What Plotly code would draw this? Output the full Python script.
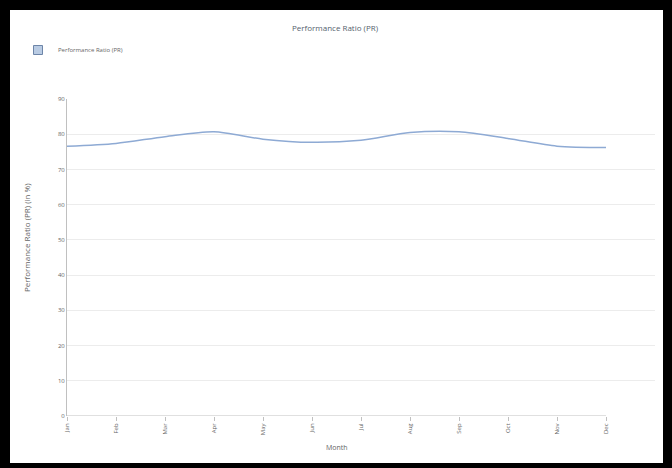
import plotly.graph_objects as go

months = ["Jan", "Feb", "Mar", "Apr", "May", "Jun", "Jul", "Aug", "Sep", "Oct", "Nov", "Dec"]
pr_values = [76.6, 77.4, 79.3, 80.7, 78.6, 77.7, 78.3, 80.5, 80.7, 78.8, 76.6, 76.2]
y_ticks = [0, 10, 20, 30, 40, 50, 60, 70, 80, 90]
series_name = "Performance Ratio (PR)"
chart_title = "Performance Ratio (PR)"
y_title = "Performance Ratio (PR) (in %)"
x_title = "Month"

W, H = 672, 468
L, R, T, B = 67, 17, 99, 52
pw = W - L - R
ph = H - T - B

def px_x(x):
    return (x - L) / pw

def px_y(y):
    return (H - B - y) / ph

line_color = "#8eaad4"
text_color = "#666666"
font_family = "Open Sans, Noto Sans, sans-serif"

fig = go.Figure()
fig.add_trace(go.Scatter(
    x=months, y=pr_values, mode="lines", name=series_name,
    line=dict(color=line_color, width=1.5, shape="spline", smoothing=0.8),
    showlegend=False,
))
fig.add_trace(go.Scatter(
    x=[None], y=[None], mode="markers", name=series_name,
    marker=dict(symbol="square", size=9, color="#b9cbe3",
                line=dict(color="#6d85a8", width=1)),
    showlegend=True,
))

shapes = []
# x axis line spanning the categories
shapes.append(dict(type="line", xref="x", yref="y", x0=0, x1=11, y0=0, y1=0,
                   line=dict(color="#c0c0c0", width=1), layer="above"))
# black frame
frame = "#000000"
shapes += [
    dict(type="rect", xref="paper", yref="paper", x0=px_x(0), x1=px_x(10), y0=px_y(H), y1=px_y(0),
         fillcolor=frame, line=dict(width=0), layer="above"),
    dict(type="rect", xref="paper", yref="paper", x0=px_x(0), x1=px_x(W), y0=px_y(10), y1=px_y(0),
         fillcolor=frame, line=dict(width=0), layer="above"),
    dict(type="rect", xref="paper", yref="paper", x0=px_x(663), x1=px_x(W), y0=px_y(H), y1=px_y(0),
         fillcolor=frame, line=dict(width=0), layer="above"),
    dict(type="rect", xref="paper", yref="paper", x0=px_x(0), x1=px_x(W), y0=px_y(H), y1=px_y(463),
         fillcolor=frame, line=dict(width=0), layer="above"),
]

annotations = [
    dict(text=y_title, xref="paper", yref="paper", x=px_x(26), y=px_y(238),
         textangle=-90, showarrow=False, font=dict(size=8, color=text_color),
         xanchor="center", yanchor="middle"),
    dict(text=x_title, xref="paper", yref="paper", x=px_x(337), y=px_y(447),
         showarrow=False, font=dict(size=7, color=text_color),
         xanchor="center", yanchor="middle"),
]

fig.update_layout(
    width=W, height=H,
    margin=dict(l=L, r=R, t=T, b=B),
    paper_bgcolor="white", plot_bgcolor="white",
    font=dict(family=font_family, color=text_color, size=7),
    title=dict(text=chart_title, x=(335) / W, xanchor="center", y=1 - 28 / H, yanchor="middle",
               font=dict(size=8, color="#555f6e")),
    legend=dict(x=px_x(18), y=px_y(50), xanchor="left", yanchor="middle",
                font=dict(size=6, color=text_color), bgcolor="rgba(0,0,0,0)",
                itemwidth=30),
    xaxis=dict(type="category", categoryorder="array", categoryarray=months,
               range=[0, 12], showgrid=False, showline=False, zeroline=False,
               tickangle=-90, ticks="outside", ticklen=4, tickcolor="#c0c0c0",
               tickfont=dict(size=6, color=text_color)),
    yaxis=dict(range=[0, 90], tickvals=y_ticks, showgrid=True, gridcolor="#ececec",
               gridwidth=1, showline=True, linecolor="#c0c0c0", linewidth=1,
               zeroline=False, ticks="", tickfont=dict(size=6, color=text_color)),
    shapes=shapes,
    annotations=annotations,
)

fig.write_html("out.html")
